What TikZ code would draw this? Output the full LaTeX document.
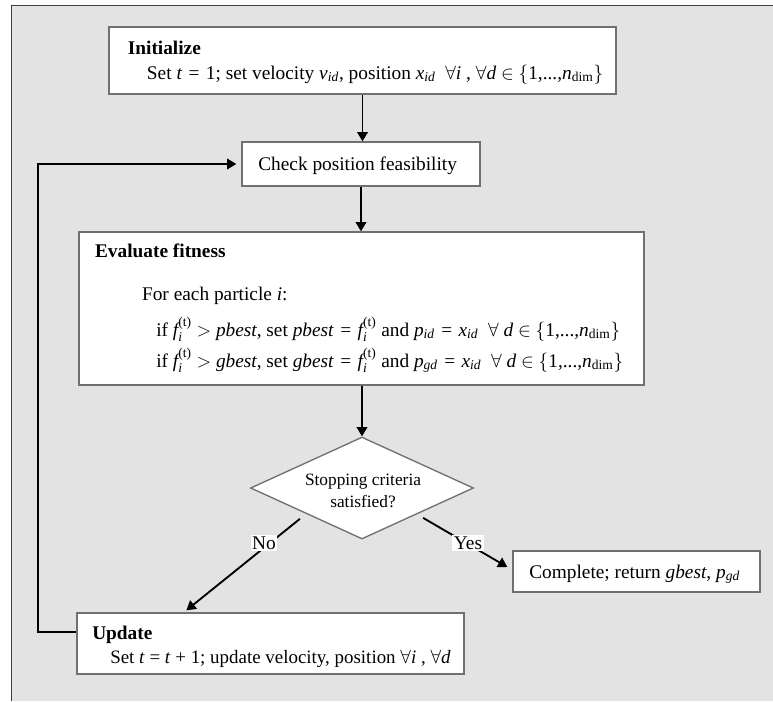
\documentclass[tikz,border=0pt]{standalone}
\usepackage{amsmath}
\usepackage{fontspec}
\setmainfont{Liberation Serif}
\usetikzlibrary{arrows.meta,shapes.geometric,fit,calc}
\definecolor{bggray}{RGB}{227,227,227}
\definecolor{boxline}{RGB}{112,112,112}
\definecolor{outerline}{RGB}{64,64,64}
\newcommand{\mysub}[1]{\textsubscript{#1}}
\newcommand{\fit}{$\textit{f}_{\textit{i}}^{\text{(t)}}$}
\newcommand{\myeq}{\hspace{0.33em}=\hspace{0.33em}}
\begin{document}
\begin{tikzpicture}[x=0.75pt,y=-0.75pt,
  font=\fontsize{14.5}{17}\selectfont,
  box/.style={draw=boxline,line width=1pt,fill=white,inner sep=0pt},
  txt/.style={anchor=base west,inner sep=0pt},
  arr/.style={line width=1.4pt,-{Triangle[length=7pt,width=8pt]}},
  lbl/.style={fill=white,inner sep=1.2pt}]
\useasboundingbox (0,0) rectangle (773,701);
\fill[white] (0,0) rectangle (773,701);
\fill[bggray] (11.5,5.5) rectangle (773,701);
\draw[outerline,line width=1.4pt] (11.5,701) -- (11.5,5.5) -- (773,5.5);

% boxes
\node[box,fit={(109,27) (616,94)}] (init) {};
\node[box,fit={(242,142) (480,186)}] (check) {};
\node[box,fit={(79,232) (644,385)}] (eval) {};
\node[draw=boxline,line width=1pt,fill=white,diamond,inner sep=0pt,
      minimum width=167.25pt,minimum height=76.5pt] (dia) at (362,488) {};
\node[box,fit={(513,551) (760,592)}] (complete) {};
\node[box,fit={(77,613) (464,674)}] (update) {};

% texts
\node[txt] (t1) at (127.6,54) {\textbf{Initialize}};
\node[txt] (t2) at (146.7,79) {Set \textit{t}\myeq{}1; set velocity \textit{v}\mysub{\textit{id}}, position \textit{x}\mysub{\textit{id}}\ \ $\forall$\textit{i} , $\forall$\textit{d} $\in$ $\{$1,...,\textit{n}\mysub{dim}$\}$};
\node[txt] (t3) at (258,170) {Check position feasibility};
\node[txt] (t4) at (94.8,257) {\textbf{Evaluate fitness}};
\node[txt] (t5) at (141.8,300) {For each particle \textit{i}:};
\node[txt] (t6) at (156,336) {if \fit\ $>$ \textit{pbest}, set \textit{pbest}\myeq\fit\ and \textit{p}\mysub{\textit{id}}\myeq\textit{x}\mysub{\textit{id}}\ \ $\forall$ \textit{d} $\in$ $\{$1,...,\textit{n}\mysub{dim}$\}$};
\node[txt] (t7) at (156,367) {if \fit\ $>$ \textit{gbest}, set \textit{gbest}\myeq\fit\ and \textit{p}\mysub{\textit{gd}}\myeq\textit{x}\mysub{\textit{id}}\ \ $\forall$ \textit{d} $\in$ $\{$1,...,\textit{n}\mysub{dim}$\}$};
\node[anchor=base,inner sep=0pt,font=\fontsize{13}{15}\selectfont] (t8) at (363,485) {Stopping criteria};
\node[anchor=base,inner sep=0pt,font=\fontsize{13}{15}\selectfont] (t9) at (363,507) {satisfied?};
\node[txt] (t10) at (529,578) {Complete; return \textit{gbest}, \textit{p}\mysub{\textit{gd}}};
\node[txt] (t11) at (92,639) {\textbf{Update}};
\node[txt,font=\fontsize{14.2}{17}\selectfont] (t12) at (110,663) {Set \textit{t} = \textit{t} + 1; update velocity, position $\forall$\textit{i} , $\forall$\textit{d}};

% connectors
\draw[arr] (init.south) -- (init.south |- check.north);
\draw[arr] (check.south) -- (check.south |- eval.north);
\draw[arr] (eval.south -| dia.north) -- (dia.north);
\draw[arr] ($(dia.south west)+(-6,5)$) -- ($(update.north west)+(110,-2)$);
\draw[arr] ($(dia.south east)+(5,4)$) -- ($(complete.west)+(-5,-4.5)$);
\draw[arr] ($(update.west)+(0,-11.5)$) -- ++(-38,0) |- ($(check.west)+(-5,0)$);

% labels
\node[lbl] (no) at (264,543) {No};
\node[lbl] (yes) at (468,543) {Yes};
\end{tikzpicture}
\end{document}
